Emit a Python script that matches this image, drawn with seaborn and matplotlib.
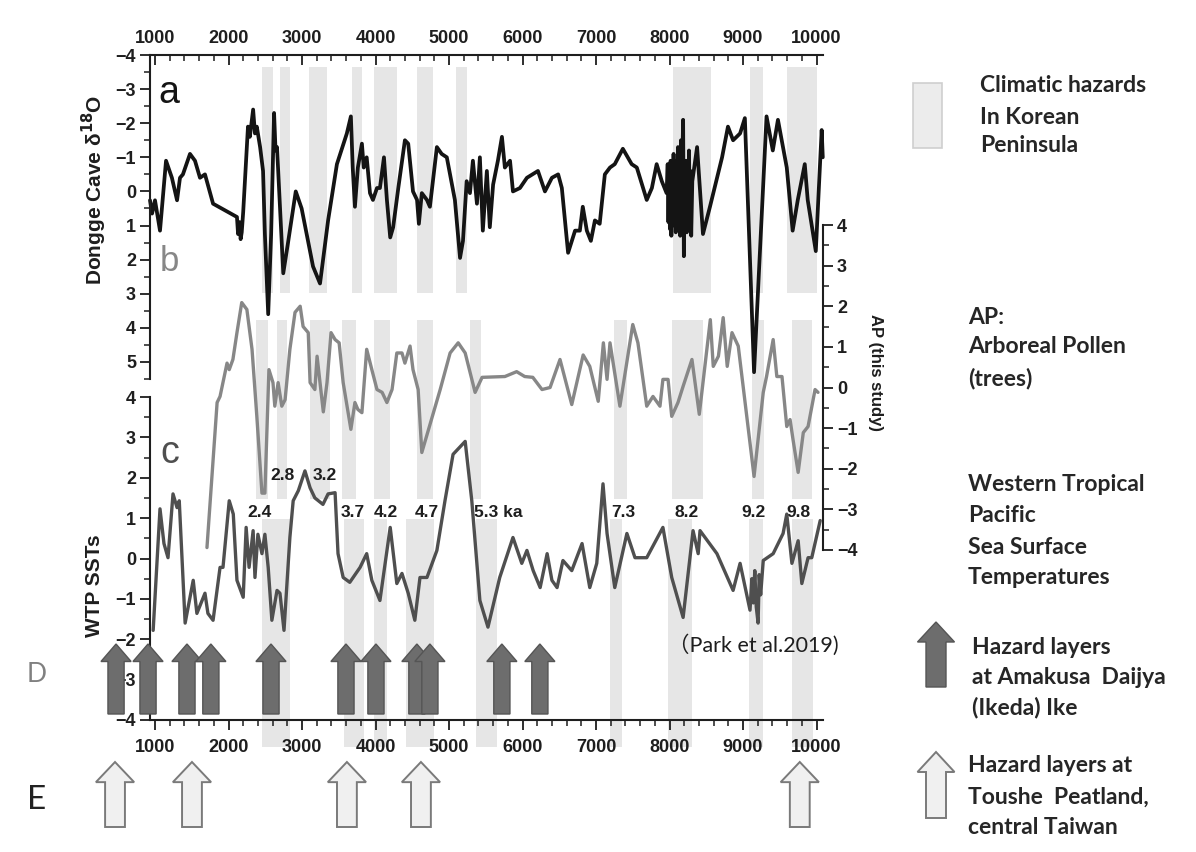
import matplotlib
matplotlib.use("Agg")
import matplotlib.pyplot as plt
import matplotlib.transforms as mtransforms
from matplotlib.patches import FancyArrow, Rectangle
from matplotlib.ticker import MultipleLocator
import seaborn as sns

# ---------------- data ----------------
# (a) Dongge Cave speleothem d18O record (per mil, axis inverted)
dongge_year = [932, 960, 1000, 1068, 1150, 1230, 1300, 1340, 1380, 1476, 1544, 1612, 1680, 1790,
               2115, 2130, 2150, 2165, 2180, 2200, 2265, 2290, 2335, 2360, 2385, 2430, 2470, 2495,
               2540, 2580, 2620, 2640, 2660, 2745, 2810, 2915, 2995, 3150, 3245, 3355, 3475, 3610,
               3665, 3690, 3720, 3760, 3815, 3840, 3880, 3925, 3965, 4020, 4060, 4115, 4155, 4200,
               4240, 4310, 4400, 4445, 4510, 4565, 4590, 4630, 4700, 4740, 4835, 4900, 4970, 5080,
               5150, 5190, 5240, 5285, 5325, 5380, 5420, 5460, 5515, 5555, 5600, 5665, 5720, 5760,
               5830, 5870, 5965, 6060, 6210, 6305, 6400, 6485, 6535, 6620, 6715, 6780, 6820, 6875,
               6930, 6985, 7050, 7120, 7190, 7255, 7365, 7485, 7555, 7690, 7760, 7825, 7895, 7960,
               7975, 7985, 7995, 8005, 8015, 8025, 8035, 8045, 8055, 8065, 8075, 8085, 8095, 8105,
               8115, 8125, 8135, 8145, 8155, 8165, 8175, 8185, 8195, 8205, 8215, 8225, 8235, 8245,
               8255, 8265, 8275, 8285, 8295, 8310, 8375, 8455, 8550, 8715, 8795, 8865, 8960, 9025,
               9150, 9320, 9405, 9475, 9595, 9675, 9745, 9840, 9880, 9990, 10070, 10085]
dongge_d18o = [0.26, 0.65, 0.26, 1.15, -0.9, -0.4, 0.26, -0.4, -0.5, -1.1, -0.9, -0.4, -0.5, 0.36,
               0.75, 1.25, 0.9, 1.4, 1.2, 0.6, -1.9, -1.6, -2.4, -1.7, -1.9, -1.3, -0.6, 1.25,
               3.6, 1.25, -2.3, -1.2, -1.3, 2.4, 1.5, 0.0, 0.5, 2.2, 2.7, 0.85, -0.8, -1.7,
               -2.2, -0.7, 0.45, -0.7, -1.4, -0.7, -1.0, 0.05, 0.25, -0.1, -0.1, -1.0, 0.25, 1.35,
               1.05, -0.1, -1.5, -1.4, 0.0, 0.25, 0.95, 0.05, 0.25, 0.45, -1.3, -1.1, -1.0, 0.25,
               1.95, 1.45, -0.3, 0.05, -0.9, 0.36, -1.0, 1.15, -0.6, 1.05, -0.2, -0.9, -1.6, -0.7,
               -0.9, 0.0, -0.1, -0.4, -0.6, 0.0, -0.4, -0.5, -0.1, 1.8, 1.15, 1.15, 0.45, 1.15,
               1.45, 0.85, 0.95, -0.5, -0.7, -0.8, -1.25, -0.8, -0.7, 0.25, -0.1, -0.8, -0.3, 0.05,
               -0.8, 0.9, -0.6, 1.1, -0.9, 1.3, -0.5, 0.8, -1.1, 1.0, -0.7, 1.2, -0.9, 0.9,
               -1.3, 1.1, -0.8, 1.3, -1.5, 0.9, -1.0, -2.1, 1.9, -0.6, 1.0, -0.9, 1.2, -0.4,
               1.1, -1.2, 0.8, -0.6, 1.3, -0.3, -1.3, 1.25, 0.45, -1.0, -1.9, -1.5, -1.7, -2.15,
               5.3, -2.2, -1.2, -2.1, -0.7, 1.15, 0.25, -0.8, 0.25, 1.75, -1.8, -1.0]

# (b) Arboreal pollen (AP) anomaly, this study
ap_year = [1707, 1845, 1885, 1980, 2010, 2060, 2115, 2180, 2250, 2320, 2385, 2455, 2495, 2550,
           2605, 2630, 2675, 2725, 2770, 2835, 2905, 2975, 3015, 3085, 3110, 3175, 3205, 3245,
           3290, 3340, 3395, 3450, 3505, 3560, 3665, 3720, 3760, 3815, 3880, 3950, 4020, 4090,
           4155, 4225, 4290, 4360, 4400, 4470, 4510, 4580, 4630, 4880, 5015, 5125, 5220, 5355,
           5450, 5760, 5920, 6030, 6140, 6265, 6375, 6510, 6670, 6825, 6915, 7030, 7100, 7150,
           7190, 7325, 7500, 7570, 7690, 7775, 7870, 7910, 7980, 8030, 8115, 8185, 8305, 8405,
           8555, 8595, 8665, 8730, 8785, 8850, 8935, 9150, 9275, 9320, 9410, 9460, 9530, 9595,
           9640, 9680, 9750, 9820, 9885, 9980, 10020]
ap_value = [-3.94, -0.37, -0.22, 0.6, 0.44, 0.69, 1.35, 2.09, 1.92, 0.94, -0.7, -2.6, -2.6, 0.44,
            0.12, -0.46, 0.12, -0.46, -0.3, 0.94, 1.85, 2.0, 1.5, 1.35, 0.12, -0.05, 0.77, 0.12,
            -0.6, 0.12, 1.35, 1.18, 1.1, 0.12, -1.03, -0.37, -0.54, -0.62, 0.94, 0.44, -0.05, -0.12,
            -0.37, -0.05, 0.85, 0.85, 0.6, 1.02, 0.44, -0.05, -1.6, -0.05, 0.85, 1.1, 0.85, -0.12,
            0.25, 0.27, 0.39, 0.27, 0.25, -0.05, 0.0, 0.69, -0.42, 0.8, 0.52, -0.34, 1.1, 0.2,
            1.1, -0.46, 1.55, 1.1, -0.46, -0.22, -0.46, 0.2, 0.2, -0.71, -0.37, 0.03, 0.69, -0.66,
            1.67, 0.52, 0.77, 1.72, 0.52, 1.35, 1.02, -2.19, -0.12, 0.27, 1.18, 0.27, 0.27, -0.96,
            -0.79, -1.28, -2.09, -1.11, -0.96, -0.05, -0.12]

# (c) Western Tropical Pacific sea surface temperature anomaly
sst_year = [975, 1068, 1122, 1177, 1245, 1300, 1330, 1410, 1520, 1570, 1680, 1720, 1790, 1885,
            1925, 2010, 2065, 2115, 2200, 2240, 2280, 2335, 2360, 2400, 2455, 2495, 2540, 2590,
            2660, 2700, 2755, 2835, 2880, 2950, 3040, 3110, 3175, 3285, 3355, 3450, 3490, 3560,
            3650, 3790, 3880, 3950, 4060, 4200, 4290, 4360, 4445, 4535, 4605, 4700, 4835, 4945,
            5055, 5220, 5310, 5420, 5530, 5690, 5870, 5990, 6060, 6145, 6240, 6335, 6400, 6470,
            6550, 6670, 6810, 6915, 7010, 7095, 7150, 7255, 7420, 7530, 7690, 7910, 8030, 8185,
            8320, 8390, 8415, 8645, 8865, 8960, 9095, 9120, 9140, 9160, 9180, 9205, 9220, 9240,
            9275, 9410, 9545, 9595, 9665, 9750, 9800, 9885, 9935, 10050]
sst_value = [-1.78, 1.23, 0.37, 0.02, 1.6, 1.26, 1.43, -1.6, -0.54, -1.36, -0.86, -1.36, -1.53, -0.22,
             -0.22, 1.43, 1.1, -0.54, -0.96, 0.77, -0.22, 0.69, -0.47, 0.6, 0.12, 0.6, -0.22, -1.53,
             -0.79, -0.86, -1.78, 0.52, 1.43, 1.68, 2.17, 1.75, 1.5, 1.34, 1.6, 1.63, 0.12, -0.47,
             -0.59, -0.22, 0.12, -0.54, -1.04, 0.77, -0.62, -0.37, -0.86, -1.53, -0.47, -0.47, 0.2, 1.43,
             2.58, 2.9, 1.43, -1.04, -1.7, -0.47, 0.52, -0.12, 0.2, -0.3, -0.72, 0.12, -0.54, -0.72,
             -0.05, -0.3, 0.37, -0.72, -0.12, 1.85, 0.62, -0.72, 0.62, 0.02, 0.02, 0.77, -0.47, -1.46,
             0.69, 0.12, 0.69, 0.12, -0.79, -0.12, -1.28, -0.5, -1.1, -0.3, -1.2, -1.6, -0.4, -0.9,
             -0.05, 0.12, 0.62, 1.1, -0.12, 0.44, -0.62, 0.02, 0.02, 0.94]

# climatic hazard intervals in the Korean Peninsula (years), one list per panel
bands_a = [(2455, 2605), (2700, 2836), (3094, 3340), (3680, 3815), (3980, 4290), (4563, 4780),
           (5094, 5243), (8045, 8562), (9092, 9269), (9595, 10003)]
bands_b = [(2380, 2540), (2660, 2800), (3110, 3380), (3550, 3730), (3980, 4200), (4560, 4780),
           (5280, 5440), (7250, 7420), (8030, 8450), (9120, 9280), (9660, 9940)]
bands_c = [(2455, 2830), (3570, 3850), (3980, 4160), (4420, 4800), (5370, 5650), (7190, 7350),
           (7980, 8300), (9080, 9270), (9660, 9950)]

# event labels on the SST panel (year, SST level)
event_text = ["2.4", "2.8", "3.2", "3.7", "4.2", "4.7", "5.3 ka", "7.3", "8.2", "9.2", "9.8"]
event_year = [2428, 2741, 3313, 3694, 4143, 4701, 5667, 7367, 8238, 9136, 9748]
event_level = [1.14, 2.05, 2.05, 1.14, 1.14, 1.14, 1.14, 1.14, 1.14, 1.14, 1.14]

# hazard layers: D = Amakusa Daijya (Ikeda) Ike, E = Toushe Peatland
amakusa_year = [470, 905, 1435, 1760, 2578, 3598, 4006, 4563, 4740, 5719, 6236]
toushe_year = [456, 1503, 3611, 4618, 9772]

year_ticks = list(range(1000, 10001, 1000))

# ---------------- style ----------------
sns.set_theme(style="white")
plt.rcParams["font.family"] = ["Liberation Sans", "DejaVu Sans"]
plt.rcParams["font.weight"] = "bold"
plt.rcParams["axes.unicode_minus"] = True

W, H = 1196, 852
fig = plt.figure(figsize=(W / 100, H / 100), dpi=100)
fig.patch.set_facecolor("white")

def px_axes(left, top, right, bottom):
    return fig.add_axes([left / W, 1 - bottom / H, (right - left) / W, (bottom - top) / H])

def fig_text(x, y, s, **kw):
    return fig.text(x / W, 1 - y / H, s, **kw)

XLIM = (932, 10088)
TXT = "#1e1e1e"
C_A, C_B, C_C = "#141414", "#878787", "#4f4f4f"
BAND = "#e6e6e6"
TICK_FS = 13

ax_band = px_axes(150, 55, 823, 748)
ax_c = px_axes(150, 397, 823, 720)
ax_b = px_axes(150, 225, 823, 550)
ax_a = px_axes(150, 55, 823, 379)
ax_d = px_axes(150, 644, 823, 714)
ax_e = px_axes(150, 762, 823, 827)

for z, ax in enumerate([ax_band, ax_c, ax_b, ax_a, ax_d, ax_e]):
    ax.set_zorder(z)
    ax.patch.set_alpha(0)
    ax.set_xlim(*XLIM)
    ax.grid(False)
    for s in ax.spines.values():
        s.set_visible(False)
    ax.set_xticks([])
    ax.set_yticks([])

ax_band.axis("off")
ax_d.axis("off")
ax_e.axis("off")
ax_a.set_ylim(5.5, -4)
ax_b.set_ylim(-4, 4)
ax_c.set_ylim(-4, 4)
ax_d.set_ylim(0, 1)
ax_e.set_ylim(0, 1)

# ---------------- hazard bands ----------------
def draw_bands(bands, panel_ax, lo, hi):
    tr = mtransforms.blended_transform_factory(ax_band.transData, panel_ax.transData)
    for x0, x1 in bands:
        ax_band.add_patch(Rectangle((x0, lo), x1 - x0, hi - lo, transform=tr,
                                    facecolor=BAND, edgecolor="none", clip_on=False))

draw_bands(bands_a, ax_a, -3.65, 2.97)
draw_bands(bands_b, ax_b, -2.75, 1.67)
draw_bands(bands_c, ax_c, -4.67, 0.98)

# ---------------- curves ----------------
sns.lineplot(x=dongge_year, y=dongge_d18o, ax=ax_a, color=C_A, linewidth=2.7,
             sort=False, estimator=None)
sns.lineplot(x=ap_year, y=ap_value, ax=ax_b, color=C_B, linewidth=2.4,
             sort=False, estimator=None)
sns.lineplot(x=sst_year, y=sst_value, ax=ax_c, color=C_C, linewidth=2.4,
             sort=False, estimator=None)
for ax in (ax_a, ax_b, ax_c):
    ax.set_xlim(*XLIM)
    ax.set_xlabel("")
    ax.set_ylabel("")
    for ln in ax.lines:
        ln.set_clip_on(False)

# ---------------- axes: spines and ticks ----------------
def style_ticks(ax, axis, direction, pad):
    ax.tick_params(axis=axis, which="major", direction=direction, length=7, width=1.3,
                   color=TXT, labelsize=TICK_FS, labelcolor=TXT, pad=pad)
    ax.tick_params(axis=axis, which="minor", direction=direction, length=4, width=1.1,
                   color=TXT)

# panel a: top year axis + left d18O axis
ax_a.spines["top"].set_visible(True)
ax_a.spines["left"].set_visible(True)
ax_a.xaxis.tick_top()
ax_a.set_xticks(year_ticks)
ax_a.xaxis.set_minor_locator(MultipleLocator(200))
style_ticks(ax_a, "x", "in", 6)
ax_a.yaxis.tick_left()
ax_a.set_yticks(range(-4, 6))
ax_a.yaxis.set_minor_locator(MultipleLocator(0.5))
style_ticks(ax_a, "y", "out", 3)

# panel b: right AP axis
ax_b.spines["right"].set_visible(True)
ax_b.yaxis.tick_right()
ax_b.set_yticks(range(-4, 5))
ax_b.yaxis.set_minor_locator(MultipleLocator(0.5))
style_ticks(ax_b, "y", "out", 3)

# panel c: bottom year axis + left SST axis
ax_c.spines["bottom"].set_visible(True)
ax_c.spines["left"].set_visible(True)
ax_c.xaxis.tick_bottom()
ax_c.set_xticks(year_ticks)
ax_c.xaxis.set_minor_locator(MultipleLocator(200))
style_ticks(ax_c, "x", "out", 7)
ax_c.yaxis.tick_left()
ax_c.set_yticks(range(-4, 5))
ax_c.yaxis.set_minor_locator(MultipleLocator(0.5))
style_ticks(ax_c, "y", "out", 3)

for ax in (ax_a, ax_b, ax_c):
    for s in ax.spines.values():
        s.set_color(TXT)
        s.set_linewidth(1.5)

# axis titles
fig_text(94, 190, "Dongge Cave \u03b4$^{\\mathbf{18}}$O", fontsize=15, fontweight="bold",
         color=TXT, rotation=90, ha="center", va="center")
fig_text(94, 586, "WTP SSTs", fontsize=15, fontweight="bold", color=TXT, rotation=90,
         ha="center", va="center")
fig_text(875, 372, "AP (this study)", fontsize=12, fontweight="bold", color=TXT,
         rotation=270, ha="center", va="center")

# panel letters
ax_a.text(1041, -2.9, "a", fontsize=27, fontweight="normal", color=C_A, ha="left", va="center")
ax_b.text(1068, 3.1, "b", fontsize=25, fontweight="normal", color=C_B, ha="left", va="center")
ax_c.text(1068, 2.62, "c", fontsize=27, fontweight="normal", color=C_C, ha="left", va="center")

# event labels
for t, x, y in zip(event_text, event_year, event_level):
    ax_c.text(x, y, t, fontsize=12.5, fontweight="bold", color=TXT, ha="center",
              va="center", zorder=5)

# ---------------- hazard layer arrows ----------------
for x in amakusa_year:
    ax_d.add_patch(FancyArrow(x, 0, 0, 1, width=220, head_width=410, head_length=0.25,
                              length_includes_head=True, facecolor="#6d6d6d",
                              edgecolor="#555555", linewidth=1.0, clip_on=False))
for x in toushe_year:
    ax_e.add_patch(FancyArrow(x, 0, 0, 1, width=270, head_width=520, head_length=0.31,
                              length_includes_head=True, facecolor="#f0f0f0",
                              edgecolor="#7a7a7a", linewidth=1.4, clip_on=False))

fig_text(37, 674, "D", fontsize=19, fontweight="normal", color="#808080", ha="center",
         va="center", family=["Lato", "DejaVu Sans"])
fig_text(37, 800, "E", fontsize=24, fontweight="normal", color="#222222", ha="center",
         va="center", family=["Lato", "DejaVu Sans"])

fig_text(668, 645, "\uff08Park et al.2019)", fontsize=15.5, fontweight="normal", color=TXT,
         ha="left", va="center", family=["Lato", "Noto Sans CJK JP", "DejaVu Sans"])

# ---------------- legend ----------------
LEG_FONT = ["Lato", "DejaVu Sans"]
legend_lines = [
    ("Climatic hazards", 980, 85), ("In Korean", 980, 117), ("Peninsula", 980, 146),
    ("AP:", 968, 317), ("Arboreal Pollen", 968, 347), ("(trees)", 968, 378),
    ("Western Tropical", 968, 485), ("Pacific", 968, 515), ("Sea Surface", 968, 547),
    ("Temperatures", 968, 577),
    ("Hazard layers", 972, 647), ("at Amakusa  Daijya", 972, 677), ("(Ikeda) Ike", 972, 707),
    ("Hazard layers at", 968, 765), ("Toushe  Peatland,", 968, 797), ("central Taiwan", 968, 827),
]
for t, x, y in legend_lines:
    fig_text(x, y, t, fontsize=16.5, fontweight="bold", color="#262626",
             ha="left", va="center", family=LEG_FONT)

ax_leg = px_axes(900, 60, 970, 840)
ax_leg.set_xlim(900, 970)
ax_leg.set_ylim(840, 60)
ax_leg.axis("off")
ax_leg.add_patch(Rectangle((913, 83), 29, 65, facecolor="#ececec", edgecolor="#cfcfcf",
                           linewidth=1.2))
ax_leg.add_patch(FancyArrow(936, 687, 0, -65, width=20, head_width=37, head_length=20,
                            length_includes_head=True, facecolor="#6d6d6d",
                            edgecolor="#555555", linewidth=1.0))
ax_leg.add_patch(FancyArrow(936, 818, 0, -66, width=20, head_width=37, head_length=20,
                            length_includes_head=True, facecolor="#f0f0f0",
                            edgecolor="#7a7a7a", linewidth=1.4))

fig.savefig("out.png", dpi=100, facecolor="white")
